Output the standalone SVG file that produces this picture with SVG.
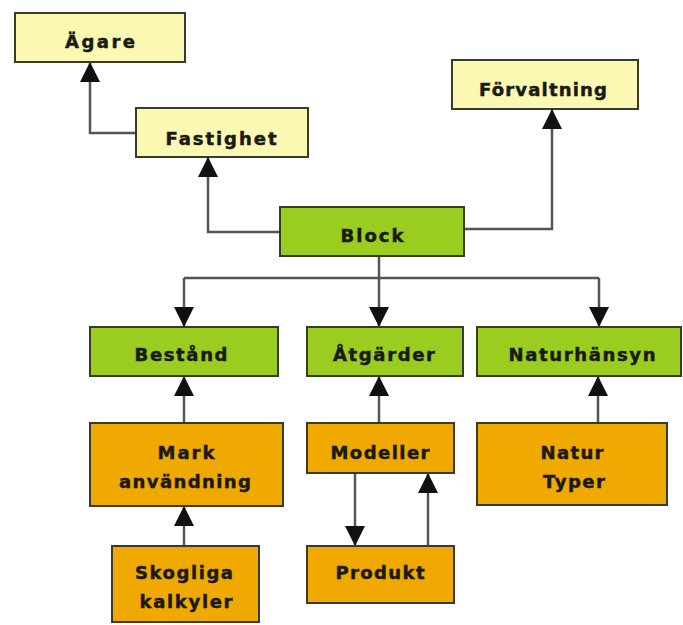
<svg xmlns="http://www.w3.org/2000/svg" width="683" height="625" viewBox="0 0 683 625">
<style>
.box{stroke:#3a3a2a;stroke-width:2}
.y{fill:#faf8b2}
.g{fill:#9acd20}
.o{fill:#f0a900}
.t{font-family:"DejaVu Sans","Liberation Sans",sans-serif;font-weight:bold;font-size:18px;fill:#1a1a10;stroke:#1a1a10;stroke-width:0.5;text-anchor:middle}
.c{fill:none;stroke:#555;stroke-width:2.5;marker-end:url(#ah)}
.cn{fill:none;stroke:#555;stroke-width:2.5}
</style>
<defs>
<marker id="ah" markerUnits="userSpaceOnUse" markerWidth="20" markerHeight="20" viewBox="0 0 20 20" refX="20" refY="10" orient="auto">
<path d="M0,0 L20,10 L0,20 z" fill="#111"/>
</marker>
</defs>
<rect width="683" height="625" fill="#fff"/>
<g id="connectors">
<path class="c" d="M136,133 H90 V62"/>
<path class="c" d="M280,232 H208 V157"/>
<path class="c" d="M464,229 H552 V109"/>
<path class="c" d="M379,256 V327"/>
<path class="cn" d="M184,278 H599"/>
<path class="c" d="M184,278 V327"/>
<path class="c" d="M599,278 V327"/>
<path class="c" d="M184,423 V376"/>
<path class="c" d="M379,423 V376"/>
<path class="c" d="M598,423 V376"/>
<path class="c" d="M184,546 V506"/>
<path class="c" d="M355,473 V546"/>
<path class="c" d="M428,546 V473"/>
</g>
<g id="agare"><rect class="box y" x="15" y="13" width="170" height="49"/><text class="t" x="100" y="48" textLength="70" lengthAdjust="spacing">Ägare</text></g>
<g id="fastighet"><rect class="box y" x="136" y="108" width="172" height="49"/><text class="t" x="221" y="145" textLength="111" lengthAdjust="spacing">Fastighet</text></g>
<g id="forvaltning"><rect class="box y" x="452" y="60" width="186" height="49"/><text class="t" x="543" y="96" textLength="128" lengthAdjust="spacing">Förvaltning</text></g>
<g id="block"><rect class="box g" x="280" y="207" width="184" height="49"/><text class="t" x="372" y="242" textLength="63" lengthAdjust="spacing">Block</text></g>
<g id="bestand"><rect class="box g" x="90" y="327" width="188" height="49"/><text class="t" x="181" y="361" textLength="93" lengthAdjust="spacing">Bestånd</text></g>
<g id="atgarder"><rect class="box g" x="307" y="327" width="156" height="49"/><text class="t" x="384" y="361" textLength="102" lengthAdjust="spacing">Åtgärder</text></g>
<g id="naturhansyn"><rect class="box g" x="477" y="327" width="204" height="49"/><text class="t" x="582" y="361" textLength="147" lengthAdjust="spacing">Naturhänsyn</text></g>
<g id="markanvandning"><rect class="box o" x="90" y="423" width="193" height="83"/><text class="t" x="186" y="459" textLength="57" lengthAdjust="spacing">Mark</text><text class="t" x="185" y="488" textLength="132" lengthAdjust="spacing">användning</text></g>
<g id="modeller"><rect class="box o" x="307" y="423" width="147" height="50"/><text class="t" x="380" y="459" textLength="99" lengthAdjust="spacing">Modeller</text></g>
<g id="naturtyper"><rect class="box o" x="477" y="423" width="190" height="82"/><text class="t" x="572" y="459" textLength="63" lengthAdjust="spacing">Natur</text><text class="t" x="574" y="488" textLength="62" lengthAdjust="spacing">Typer</text></g>
<g id="produkt"><rect class="box o" x="307" y="546" width="147" height="57"/><text class="t" x="380" y="579" textLength="89" lengthAdjust="spacing">Produkt</text></g>
<g id="skogliga"><rect class="box o" x="112" y="546" width="147" height="76"/><text class="t" x="184" y="579" textLength="98" lengthAdjust="spacing">Skogliga</text><text class="t" x="186" y="608" textLength="93" lengthAdjust="spacing">kalkyler</text></g>
</svg>
